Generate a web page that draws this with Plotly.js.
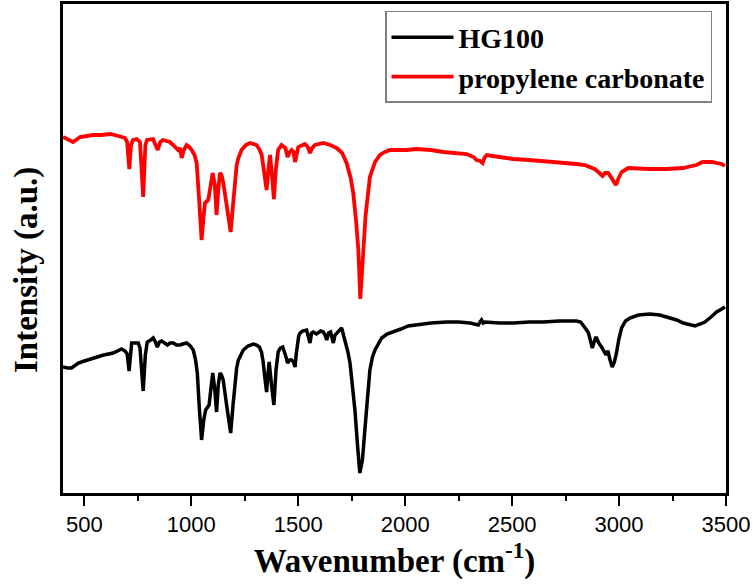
<!DOCTYPE html>
<html>
<head>
<meta charset="utf-8">
<script src="https://cdn.plot.ly/plotly-3.0.1.min.js"></script>
<style>html,body{margin:0;padding:0;background:#fff;}#chart{width:756px;height:587px;}</style>
</head>
<body>
<div id="chart"></div>
<script>
// Wavenumber (cm-1) and intensity (a.u., offset spectra)
const hgWavenumber = [400,420,440,455,472,500,542,590,635,660,674,690,700,709,715,721,735,752,760,775,785,794,810,822,832,841,851,861,875,888,900,916,930,947,960,978,995,1009,1020,1028,1038,1048,1058,1067,1083,1092,1100,1110,1118,1126,1134,1141,1149,1165,1184,1195,1204,1212,1220,1243,1265,1290,1305,1318,1328,1336,1344,1352,1358,1364,1375,1386,1396,1406,1416,1427,1440,1450,1460,1469,1478,1485,1490,1495,1502,1508,1520,1539,1548,1555,1562,1570,1585,1594,1605,1617,1625,1633,1642,1651,1658,1664,1672,1680,1692,1703,1709,1714,1723,1732,1742,1753,1765,1777,1788,1800,1812,1823,1835,1847,1859,1875,1890,1915,1944,1980,2014,2053,2120,2194,2250,2303,2330,2342,2350,2357,2365,2373,2440,2505,2580,2645,2720,2801,2820,2833,2845,2857,2867,2875,2882,2890,2895,2905,2918,2930,2939,2944,2949,2958,2968,2978,2988,2998,3012,3030,3051,3090,3144,3190,3238,3270,3300,3330,3355,3380,3401,3430,3456,3480,3495];
const hgIntensity = [126,125,125,127,130,132,135,138,140,143,144,142,139,122,141,150,150,150,145,102,138,151,153,155,151,146,151,152,150,148,150,150,148,148,149,150,147,143,133,120,83,53,73,83,88,108,120,103,81,108,120,118,113,88,60,88,113,125,133,143,147,149,148,146,141,131,115,101,118,131,108,88,123,141,145,146,138,130,133,133,131,126,138,148,157,160,162,163,157,150,160,161,159,160,162,161,158,153,160,161,155,150,158,160,163,165,160,156,150,141,130,108,83,48,20,33,60,93,123,136,143,150,155,159,161,164,167,168,170,171,171,170,169,168,171,173,170,171,170,170,171,171,172,172,171,168,164,160,151,145,150,155,155,150,146,141,138,141,141,133,126,131,140,153,165,172,175,178,179,178,175,173,170,168,167,169,171,176,181,184,186];

const pcWavenumber = [400,420,447,480,510,540,580,620,660,690,700,710,718,727,745,760,775,785,793,821,843,855,868,900,920,938,947,955,965,978,990,1002,1015,1025,1035,1048,1058,1064,1079,1090,1100,1110,1118,1126,1134,1141,1149,1165,1184,1195,1204,1212,1220,1235,1255,1274,1305,1320,1329,1340,1352,1360,1368,1377,1386,1395,1406,1422,1440,1450,1460,1469,1478,1485,1492,1500,1531,1545,1555,1565,1578,1617,1650,1680,1705,1726,1745,1757,1770,1781,1790,1800,1815,1835,1859,1882,1905,1929,1970,2007,2053,2120,2178,2240,2287,2320,2334,2350,2362,2370,2381,2440,2505,2580,2645,2720,2801,2840,2864,2885,2903,2915,2923,2935,2949,2965,2985,2998,3012,3043,3100,3144,3220,3300,3340,3362,3390,3409,3435,3456,3480,3495];
const pcIntensity = [356,354,351,356,357,358,358,359,357,355,351,324,348,353,354,351,296,348,353,354,343,351,353,351,347,343,345,335,343,348,346,343,338,330,298,253,278,290,293,308,320,308,278,303,320,318,311,288,261,288,316,328,335,343,348,350,348,343,338,323,303,323,338,318,294,323,343,348,345,336,341,343,341,331,341,346,349,346,340,345,348,350,348,345,340,330,315,300,273,243,194,228,278,316,331,338,341,343,343,343,344,343,341,340,339,336,333,332,330,335,338,336,334,333,332,331,329,328,326,324,321,318,317,320,320,315,308,315,321,325,324,324,324,325,327,328,331,331,331,330,329,327];

const seriesNames = ["HG100", "propylene carbonate"];
const seriesColors = ["#000000", "#ff0000"];
const xTickValues = [500,1000,1500,2000,2500,3000,3500];
const xTickLabels = ["500","1000","1500","2000","2500","3000","3500"];

const serif = "Liberation Serif, Times New Roman, serif";
const sans = "Liberation Sans, Arial, sans-serif";

const traces = [
  {x: hgWavenumber, y: hgIntensity, name: seriesNames[0], type: "scatter", mode: "lines",
   line: {color: seriesColors[0], width: 3.5}},
  {x: pcWavenumber, y: pcIntensity, name: seriesNames[1], type: "scatter", mode: "lines",
   line: {color: seriesColors[1], width: 3.8}}
];

const layout = {
  width: 756, height: 587,
  margin: {l: 63, r: 30, t: 4, b: 94},
  paper_bgcolor: "#fff", plot_bgcolor: "#fff",
  showlegend: true,
  legend: {
    x: 0.4857, y: 0.9857, xanchor: "left", yanchor: "top",
    bgcolor: "#fff", bordercolor: "#808080", borderwidth: 1.5,
    font: {family: serif, size: 28, color: "#000", weight: "bold"},
    itemwidth: 62, tracegroupgap: 0
  },
  xaxis: {
    range: [400, 3500],
    showgrid: false, zeroline: false,
    showline: true, mirror: true, linecolor: "#000", linewidth: 3,
    ticks: "outside", ticklen: 10, tickwidth: 2, tickcolor: "#000",
    tickvals: xTickValues, ticktext: xTickLabels,
    tickfont: {family: sans, size: 22, color: "#000"},
    minor: {dtick: 250, tick0: 250, ticks: "outside", ticklen: 5, tickwidth: 2, tickcolor: "#000"},
    title: {text: "Wavenumber (cm<sup>-1</sup>)", font: {family: serif, size: 33, color: "#000", weight: "bold"}, standoff: 6}
  },
  yaxis: {
    range: [0, 489],
    showgrid: false, zeroline: false,
    showline: true, mirror: true, linecolor: "#000", linewidth: 3,
    ticks: "", showticklabels: false
  },
  annotations: [{
    text: "Intensity (a.u.)", textangle: -90,
    xref: "paper", yref: "paper", x: -0.0558, y: 0.456,
    xanchor: "center", yanchor: "middle", showarrow: false,
    font: {family: serif, size: 33, color: "#000", weight: "bold"}
  }]
};

Plotly.newPlot("chart", traces, layout, {displayModeBar: false, staticPlot: true});
</script>
</body>
</html>
